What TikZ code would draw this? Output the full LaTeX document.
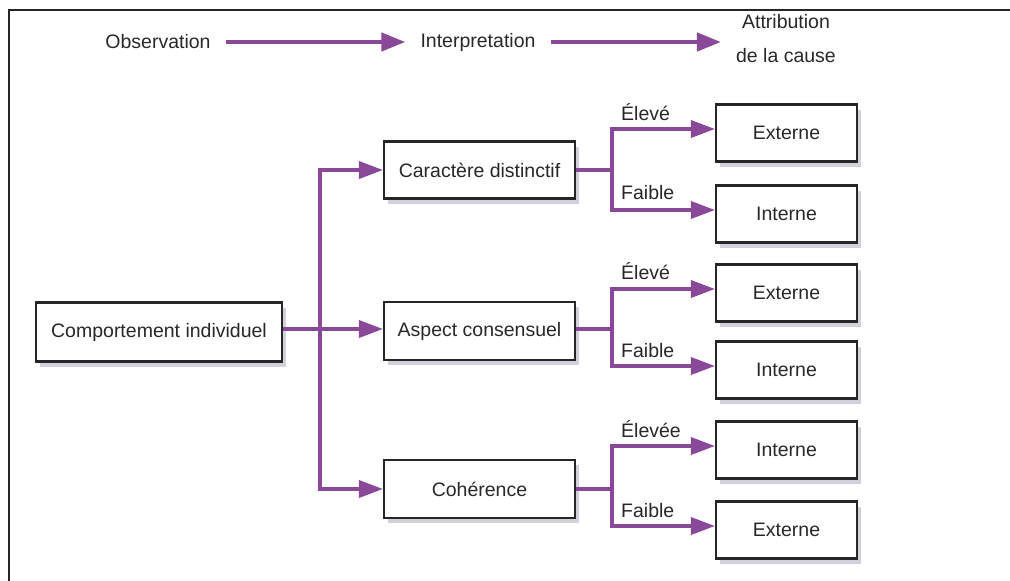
\documentclass[tikz,border=0pt]{standalone}
\usepackage{fontspec}
\setmainfont{Liberation Sans}
\usetikzlibrary{arrows.meta,shadows}
\definecolor{purp}{RGB}{138,72,152}
\definecolor{txt}{RGB}{40,40,40}
\begin{document}
\begin{tikzpicture}[x=1pt,y=-1pt,
  font=\fontsize{19.5}{22}\selectfont, text=txt,
  box/.style={draw=black!85, line width=2.1pt, fill=white, minimum height=57pt, inner sep=0pt,
    drop shadow={shadow xshift=4pt, shadow yshift=-5pt, fill=blue!25!black!45, opacity=0.4}},
  midbox/.style={box, minimum width=191pt, minimum height=57pt},
  resbox/.style={box, minimum width=141pt, minimum height=57pt},
  conn/.style={draw=purp, line width=3.4pt, -{Triangle[length=24pt,width=17pt]}},
  link/.style={draw=purp, line width=3.4pt},
  toparrow/.style={draw=purp, line width=4.4pt, -{Triangle[length=24pt,width=18pt]}},
  head/.style={inner xsep=15pt, inner ysep=2pt},
  lbl/.style={anchor=base west, inner sep=0pt}
]
\useasboundingbox (0,0) rectangle (1010,581);
\fill[white] (0,0) rectangle (1010,581);
\draw[line width=2.2pt, black!85] (1010,10) -- (9,10) -- (9,581);

% header
\node[head] (obs) at (158,42) {Observation};
\node[head] (interp) at (478,42) {Interpretation};
\node[head, align=center, font=\fontsize{19.5}{34}\selectfont] (attr) at (786,39) {Attribution\\de la cause};
\draw[toparrow] (obs.east) -- (interp.west);
\draw[toparrow] (interp.east) -- (interp.east -| attr.west);

% boxes
\node[box, minimum width=246pt, minimum height=59pt] (comp) at (159,332) {Comportement individuel};
\node[midbox] (car) at (479.5,170) {Caractère distinctif};
\node[midbox, minimum height=58pt] (asp) at (479.5,331) {Aspect consensuel};
\node[midbox, minimum height=58pt] (coh) at (479.5,489) {Cohérence};

\node[resbox] (ext1) at (786.5,133) {Externe};
\node[resbox] (int1) at (786.5,214) {Interne};
\node[resbox] (ext2) at (786.5,293) {Externe};
\node[resbox] (int2) at (786.5,370) {Interne};
\node[resbox] (int3) at (786.5,450) {Interne};
\node[resbox] (ext3) at (786.5,530) {Externe};

% trunk
\coordinate (t) at (320,329);
\draw[conn] (comp.east |- t) -- (asp.west |- t);
\draw[conn] (t) |- (car.west);
\draw[conn] (t) |- (coh.west);

% branches
\coordinate (b1) at (612,170);
\coordinate (b2) at (612,329);
\coordinate (b3) at (612,489);
\draw[link] (car.east) -- (b1);
\draw[link] (asp.east |- b2) -- (b2);
\draw[link] (coh.east) -- (b3);
\draw[conn] (b1) |- ([yshift=4pt]ext1.west);
\draw[conn] (b1) |- ([yshift=4pt]int1.west);
\draw[conn] (b2) |- ([yshift=4pt]ext2.west);
\draw[conn] (b2) |- ([yshift=4pt]int2.west);
\draw[conn] (b3) |- ([yshift=4pt]int3.west);
\draw[conn] (b3) |- ([yshift=4pt]ext3.west);

% labels
\node[lbl] (l1) at (621,120) {Élevé};
\node[lbl] (l2) at (621,199) {Faible};
\node[lbl] (l3) at (621,279) {Élevé};
\node[lbl] (l4) at (621,357) {Faible};
\node[lbl] (l5) at (621,437) {Élevée};
\node[lbl] (l6) at (621,517) {Faible};
\end{tikzpicture}
\end{document}
